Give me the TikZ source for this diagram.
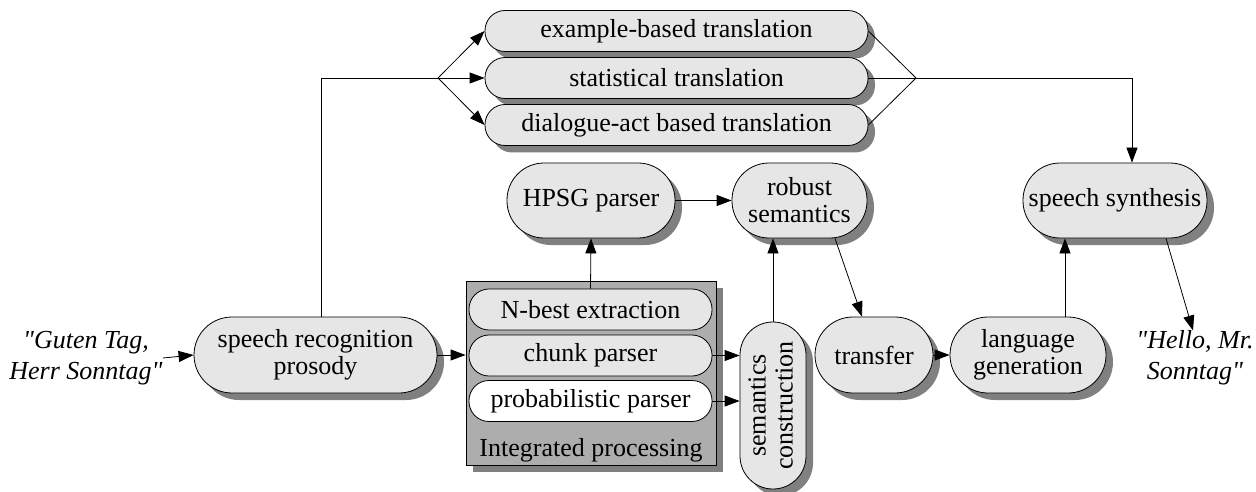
\documentclass[tikz,border=0pt]{standalone}
\usepackage{fontspec}
\setmainfont{LiberationSerif}[Extension=.ttf, UprightFont=*-Regular, ItalicFont=*-Italic, BoldFont=*-Bold, BoldItalicFont=*-BoldItalic]
\newfontfamily\diagfont{LiberationSerif}[Extension=.ttf, UprightFont=*-Regular, ItalicFont=*-Italic, BoldFont=*-Bold, BoldItalicFont=*-BoldItalic]
\usepackage{graphicx}
\usetikzlibrary{shadows,arrows.meta}
\definecolor{pillfill}{HTML}{E6E6E6}
\definecolor{shadowgray}{HTML}{808080}
\definecolor{boxgray}{HTML}{ADADAD}
\tikzset{
  myshadow/.style={drop shadow={shadow xshift=7pt, shadow yshift=-7pt, fill=shadowgray, opacity=1}},
  pill/.style={draw=black, line width=0.8pt, fill=pillfill, inner sep=0pt, align=center,
    rounded corners=#1, myshadow},
  flatpill/.style={draw=black, line width=0.8pt, fill=pillfill, inner sep=0pt, align=center,
    rounded corners=#1},
  quote/.style={font=\diagfont\fontsize{26}{31}\selectfont\itshape, align=center, inner sep=0pt},
  arr/.style={draw=black, line width=0.8pt, -{Triangle[length=15pt,width=11pt]}},
  ln/.style={draw=black, line width=0.8pt},
}
\begin{document}
\begin{tikzpicture}[x=1pt, y=-1pt, font=\diagfont\fontsize{26}{31}\selectfont]
\useasboundingbox (0,0) rectangle (1256,492);

% translation boxes
\node[pill=20pt, minimum width=383pt, minimum height=41pt] (ex) at (676.5,31) {example-based translation};
\node[pill=20pt, minimum width=383pt, minimum height=41pt] (stat) at (676.5,78) {statistical translation};
\node[pill=20pt, minimum width=383pt, minimum height=41pt] (dial) at (676.5,125) {dialogue-act based translation};

% middle row
\node[pill=37pt, minimum width=168pt, minimum height=75pt] (hpsg) at (591,200.5) {HPSG parser};
\node[pill=37pt, minimum width=135pt, minimum height=75pt] (robust) at (799.5,200.5) {robust\\[-4pt]semantics};
\node[pill=37pt, minimum width=184pt, minimum height=75pt] (synth) at (1115,200.5) {speech synthesis};

% bottom row
\node[quote] (gt) at (86,358) {"Guten Tag,\\Herr Sonntag"};
\node[pill=38pt, minimum width=243pt, minimum height=76pt] (sr) at (315.5,355) {speech recognition\\[-4pt]prosody};

\node[draw=black, line width=0.8pt, fill=boxgray, myshadow, minimum width=250pt, minimum height=184pt, inner sep=0pt] (ib) at (591,373) {};
\node[inner sep=0pt] (iblabel) at (591,450) {Integrated processing};
\node[flatpill=20pt, minimum width=243pt, minimum height=41pt] (nbest) at (590.5,309.5) {N-best extraction};
\node[flatpill=20pt, minimum width=243pt, minimum height=41pt] (chunk) at (590.5,355.5) {chunk parser};
\node[flatpill=20pt, minimum width=243pt, minimum height=41pt, fill=white] (prob) at (590.5,401) {probabilistic parser};

\node[pill=33pt, minimum width=66pt, minimum height=167pt] (sem) at (773,405.5)
  {\rotatebox{90}{\begin{tabular}{@{}c@{}}semantics\\[-4pt]construction\end{tabular}}};

\node[pill=38pt, minimum width=118pt, minimum height=76pt] (transfer) at (874,355) {transfer};
\node[pill=38pt, minimum width=156pt, minimum height=76pt] (langgen) at (1028,355) {language\\[-4pt]generation};
\node[quote] (hello) at (1195,358) {"Hello, Mr.\\Sonntag"};

% coordinates
\coordinate (fork1) at (438,78);
\coordinate (fork2) at (916,78);
\coordinate (colA) at (321,0);
\coordinate (colB) at (1132,0);
\coordinate (colC) at (1065,0);
\coordinate (colD) at (835,0);
\coordinate (colE) at (862,0);
\coordinate (colF) at (1166,0);
\coordinate (colG) at (1193,0);

% connectors
\draw[arr] (gt.east) -- (sr.west);
\draw[ln] (sr.north -| colA) |- (fork1);
\draw[arr] (fork1) -- (ex.west);
\draw[arr] (fork1) -- (stat.west);
\draw[arr] (fork1) -- (dial.west);
\draw[ln] (ex.east) -- (fork2);
\draw[ln] (stat.east) -- (fork2);
\draw[ln] (dial.east) -- (fork2);
\draw[arr] (fork2) -| (synth.north -| colB);

\draw[arr] (sr.east) -- (ib.west |- sr.east);
\draw[arr] (nbest.north) -- (hpsg.south);
\draw[arr] (hpsg.east) -- (robust.west);
\draw[arr] (sem.north) -- (robust.south -| sem.north);
\draw[arr] (robust.south -| colD) -- (transfer.north -| colE);
\draw[arr] (chunk.east) -- (sem.west |- chunk.east);
\draw[arr] (prob.east) -- (sem.west |- prob.east);
\draw[arr] (transfer.east) -- (langgen.west);
\draw[arr] (langgen.north -| colC) -- (synth.south -| colC);
\draw[arr] (synth.south -| colF) -- (hello.north -| colG);
\end{tikzpicture}
\end{document}
